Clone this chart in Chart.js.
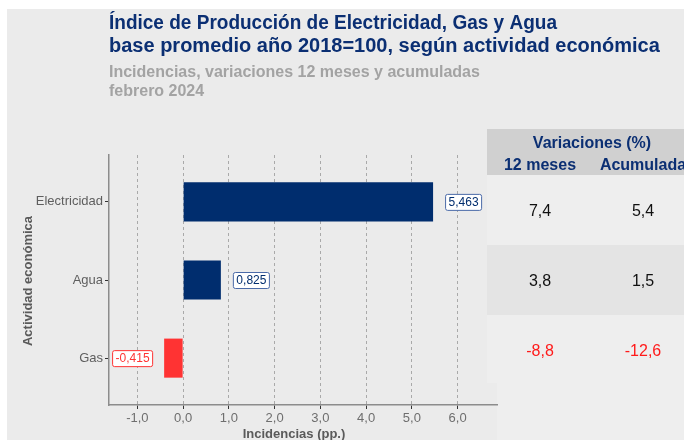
<!DOCTYPE html>
<html><head><meta charset="utf-8">
<script src="https://cdn.jsdelivr.net/npm/chart.js@4.4.1/dist/chart.umd.min.js"></script>
<style>html,body{margin:0;padding:0;background:#fff}canvas{display:block}</style>
</head><body><canvas id="c" width="684" height="440"></canvas>
<script>
// ---- data ----
const categories = ["Electricidad", "Agua", "Gas"];
const incidencias = [5.463, 0.825, -0.415];
const var12Meses = [7.4, 3.8, -8.8];
const varAcumulada = [5.4, 1.5, -12.6];
const xTicks = [-1, 0, 1, 2, 3, 4, 5, 6];
const titleLines = ["Índice de Producción de Electricidad, Gas y Agua", "base promedio año 2018=100, según actividad económica"];
const subtitleLines = ["Incidencias, variaciones 12 meses y acumuladas", "febrero 2024"];

const FONT = "'Liberation Sans', Arial, sans-serif";
const NAVY = '#002d6e';
const RED = '#ff3333';
const TITLE_BLUE = '#0b2f73';
const fmt = (v, d) => v.toFixed(d).replace('.', ',');

function fitText(ctx, text, x, y, targetW) {
  const w = ctx.measureText(text).width;
  ctx.save();
  ctx.translate(x, y);
  if (targetW && w > targetW) ctx.scale(targetW / w, 1);
  ctx.fillText(text, 0, 0);
  ctx.restore();
}

const decor = {
  id: 'decor',
  beforeDraw(chart) {
    const ctx = chart.ctx;
    ctx.save();
    ctx.fillStyle = '#ffffff';
    ctx.fillRect(0, 0, 684, 440);
    ctx.fillStyle = '#ebebeb';
    ctx.fillRect(7, 9, 677, 431);
    // table backgrounds
    ctx.fillStyle = '#eeeeee';
    ctx.fillRect(487, 175, 197, 208);
    ctx.fillRect(497, 383, 187, 57);
    ctx.fillStyle = '#e4e4e4';
    ctx.fillRect(487, 245, 197, 70);
    ctx.fillStyle = '#d0d0d0';
    ctx.fillRect(487, 129, 197, 46);
    ctx.restore();
  },
  afterDatasetsDraw(chart) {
    const ctx = chart.ctx;
    const meta = chart.getDatasetMeta(0);
    ctx.save();
    ctx.font = '12px ' + FONT;
    ctx.textBaseline = 'middle';
    meta.data.forEach((el, i) => {
      const v = incidencias[i];
      const txt = fmt(v, 3);
      const tw = ctx.measureText(txt).width;
      const bw = tw + 6, bh = 16;
      const col = v < 0 ? RED : NAVY;
      const bx = v < 0 ? el.x - 12 - bw : el.x + 12;
      const by = el.y - bh / 2;
      ctx.beginPath();
      ctx.roundRect(bx + 0.5, by + 0.5, bw, bh, 2);
      ctx.fillStyle = '#ffffff';
      ctx.fill();
      ctx.lineWidth = 1;
      ctx.strokeStyle = v < 0 ? RED : '#4a6aa8';
      ctx.stroke();
      ctx.fillStyle = col;
      ctx.textAlign = 'left';
      ctx.fillText(txt, bx + 3.5, el.y + 1);
    });
    ctx.restore();
  },
  afterDraw(chart) {
    const ctx = chart.ctx;
    ctx.save();
    // titles
    ctx.textAlign = 'left';
    ctx.textBaseline = 'alphabetic';
    ctx.fillStyle = TITLE_BLUE;
    ctx.font = 'bold 20px ' + FONT;
    fitText(ctx, titleLines[0], 109, 29, 448);
    fitText(ctx, titleLines[1], 109, 52, 555);
    ctx.fillStyle = '#a3a3a3';
    ctx.font = 'bold 16px ' + FONT;
    fitText(ctx, subtitleLines[0], 109, 77, 396);
    fitText(ctx, subtitleLines[1], 109, 96, 101);

    // axis titles
    ctx.fillStyle = '#5a5a5a';
    ctx.font = 'bold 13px ' + FONT;
    ctx.textAlign = 'center';
    ctx.fillText('Incidencias (pp.)', 294, 438);
    ctx.save();
    ctx.translate(32, 281);
    ctx.rotate(-Math.PI / 2);
    ctx.fillText('Actividad económica', 0, 0);
    ctx.restore();

    // table header
    ctx.fillStyle = TITLE_BLUE;
    ctx.font = 'bold 16px ' + FONT;
    ctx.fillText('Variaciones (%)', 592, 148);
    ctx.fillText('12 meses', 540, 170);
    ctx.fillText('Acumulada', 643, 170);

    // table rows (fixed row bands of 70px starting at 175)
    ctx.font = '16px ' + FONT;
    ctx.textBaseline = 'middle';
    categories.forEach((c, i) => {
      const y = 175 + 70 * i + 37;
      ctx.fillStyle = var12Meses[i] < 0 ? '#ff1a1a' : '#111111';
      ctx.fillText(fmt(var12Meses[i], 1), 540, y);
      ctx.fillStyle = varAcumulada[i] < 0 ? '#ff1a1a' : '#111111';
      ctx.fillText(fmt(varAcumulada[i], 1), 643, y);
    });
    ctx.restore();
  }
};

new Chart(document.getElementById('c'), {
  type: 'bar',
  data: {
    datasets: [{
      data: categories.map((c, i) => ({ x: incidencias[i], y: i + 1 })),
      backgroundColor: incidencias.map(v => v < 0 ? RED : NAVY),
      borderWidth: 0,
      categoryPercentage: 0.5,
      barPercentage: 1
    }]
  },
  options: {
    indexAxis: 'y',
    responsive: false,
    animation: false,
    devicePixelRatio: 1,
    layout: { padding: { left: 0, top: 155, right: 187, bottom: 0 } },
    plugins: { legend: { display: false }, tooltip: { enabled: false }, title: { display: false } },
    scales: {
      x: {
        type: 'linear',
        min: -1.62,
        max: 6.86,
        afterBuildTicks: s => { s.ticks = xTicks.map(v => ({ value: v })); },
        afterFit: s => { s.height = 35; },
        ticks: {
          callback: v => fmt(v, 1),
          color: '#6e6e6e',
          font: { size: 13, family: FONT },
          padding: 2,
          maxRotation: 0,
          autoSkip: false,
          includeBounds: false
        },
        grid: { color: '#a9a9a9', lineWidth: 1, tickLength: 4, tickColor: '#333333', tickBorderDash: [], tickWidth: 1 },
        border: { color: '#8c8c8c', width: 1.5, dash: [3, 3] }
      },
      y: {
        type: 'linear',
        offset: false,
        min: 0.4,
        max: 3.6,
        reverse: true,
        afterBuildTicks: s => { s.ticks = categories.map((c, i) => ({ value: i + 1 })); },
        afterFit: s => { s.width = 109; },
        ticks: {
          callback: v => categories[v - 1],
          color: '#5e5e5e',
          font: { size: 13, family: FONT },
          padding: 2,
          autoSkip: false,
          includeBounds: false
        },
        grid: { offset: false, drawOnChartArea: false, tickLength: 4, color: '#333333', tickColor: '#333333', tickBorderDash: [] },
        border: { color: '#8c8c8c', width: 1.5 }
      }
    }
  },
  plugins: [decor]
});
</script>
</body></html>
